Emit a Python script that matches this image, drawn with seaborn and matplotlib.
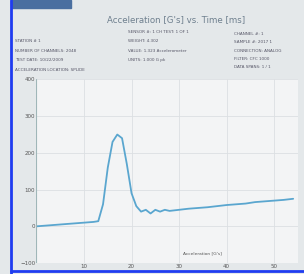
import matplotlib.pyplot as plt
import pandas as pd
import seaborn as sns
from matplotlib.lines import Line2D
from matplotlib.patches import Rectangle

# Acceleration trace
time_ms = [0, 2, 4, 6, 8, 10, 12, 13, 14, 15, 16, 17, 18, 19, 20, 21, 22, 23,
           24, 25, 26, 27, 28, 30, 32, 34, 36, 38, 40, 42, 44, 46, 48, 50, 52, 54]
accel_g = [0, 2, 4, 6, 8, 10, 12, 14, 60, 160, 230, 250, 240, 170, 90, 55, 40, 45,
           35, 45, 40, 45, 42, 45, 48, 50, 52, 55, 58, 60, 62, 66, 68, 70, 72, 75]
x_ticks = [10, 20, 30, 40, 50]
y_ticks = [-100, 0, 100, 200, 300, 400]

title = "Acceleration [G's] vs. Time [ms]"
info_left = ["STATION # 1", "NUMBER OF CHANNELS: 2048", "TEST DATE: 10/22/2009",
             "ACCELERATION LOCATION: SPLIDE"]
info_mid = ["SENSOR #: 1 CH TEST: 1 OF 1", "WEIGHT: 4.302", "VALUE: 1.323 Accelerometer",
            "UNITS: 1.000 G pk"]
info_right = ["CHANNEL #: 1", "SAMPLE #: 2017 1", "CONNECTION: ANALOG",
              "FILTER: CFC 1000", "DATA SPANS: 1 / 1"]

df = pd.DataFrame({"time": time_ms, "accel": accel_g})

sns.set_style("whitegrid")
fig = plt.figure(figsize=(3.04, 2.74), dpi=100)
fig.patch.set_facecolor("#e4e8ea")

# window header strip
fig.add_artist(Rectangle((0.035, 0.97), 0.2, 0.03, transform=fig.transFigure,
                         color="#4a6fa0"))
fig.text(0.58, 0.93, title, ha="center", va="center", fontsize=6.2, color="#6e7f8e")
for i, s in enumerate(info_left):
    fig.text(0.05, 0.85 - i * 0.035, s, fontsize=3, color="#556", va="center")
for i, s in enumerate(info_mid):
    fig.text(0.42, 0.885 - i * 0.035, s, fontsize=3, color="#556", va="center")
for i, s in enumerate(info_right):
    fig.text(0.77, 0.875 - i * 0.03, s, fontsize=3, color="#556", va="center")

ax = fig.add_axes([0.12, 0.04, 0.86, 0.67])
ax.set_facecolor("#f3f4f5")
sns.lineplot(data=df, x="time", y="accel", ax=ax, color="#5aa6cf", linewidth=1.3)
ax.set_xlim(0, 55)
ax.set_ylim(-100, 400)
ax.set_xticks(x_ticks)
ax.set_yticks(y_ticks)
ax.tick_params(labelsize=4, colors="#555", pad=1, length=0)
ax.set_xlabel("")
ax.set_ylabel("")
ax.grid(color="#dcdfe2", linewidth=0.6)
for sp in ax.spines.values():
    sp.set_visible(False)
ax.axvline(0, color="#9fb6b8", linewidth=0.8)
fig.text(0.73, 0.075, "Acceleration [G's]", fontsize=3.2, color="#555",
         ha="right", va="center")

# blue window edges
fig.add_artist(Line2D([0.035, 0.035], [0.0, 1.0], transform=fig.transFigure,
                      color="#1f3cf0", linewidth=2))
fig.add_artist(Line2D([0.035, 1.0], [0.012, 0.012], transform=fig.transFigure,
                      color="#1f3cf0", linewidth=2))

fig.savefig("out.png", dpi=100, facecolor=fig.get_facecolor())
